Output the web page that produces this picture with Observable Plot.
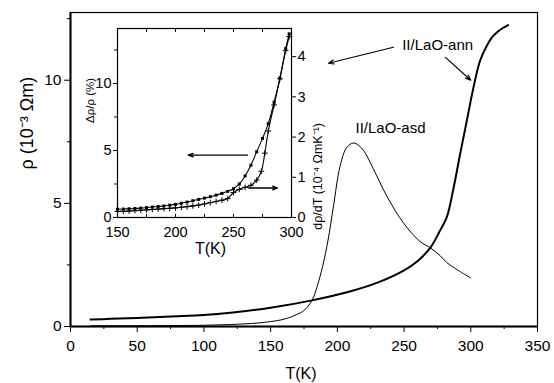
<!DOCTYPE html>
<html><head><meta charset="utf-8">
<script src="https://cdn.jsdelivr.net/npm/d3@7"></script>
<script src="https://cdn.jsdelivr.net/npm/@observablehq/plot@0.6"></script>
<style>
body{margin:0;background:#fff;font-family:"Liberation Sans",Arial,sans-serif;}
#wrap{position:relative;width:554px;height:383px;overflow:hidden;}
#wrap svg{position:absolute;}
#wrap svg, #wrap svg text{font-family:"Liberation Sans",Arial,sans-serif !important;}
</style></head><body><div id="wrap"></div>
<script>
// ---- main chart data ----
const annT = [15, 30, 50, 75, 100, 120, 150, 181, 210, 230, 250, 260, 270, 276, 282, 287, 292, 297, 302, 307, 312, 316, 320, 324, 328];
const annR = [0.28, 0.31, 0.35, 0.41, 0.47, 0.56, 0.76, 1.06, 1.43, 1.78, 2.28, 2.65, 3.22, 3.8, 4.44, 5.6, 7.0, 8.35, 9.7, 10.8, 11.4, 11.75, 11.96, 12.12, 12.24];
const asdT = [15, 50, 80, 100, 120, 140, 150, 158, 165, 170, 175, 181, 185, 189, 193, 197, 202, 207, 212, 216, 220, 227, 237, 250, 262, 270, 277, 282, 290, 300];
const asdR = [0.03, 0.03, 0.04, 0.05, 0.08, 0.14, 0.2, 0.27, 0.38, 0.5, 0.65, 1.06, 1.65, 2.45, 3.5, 4.85, 6.5, 7.27, 7.45, 7.35, 7.12, 6.4, 5.3, 4.17, 3.45, 3.18, 2.88, 2.6, 2.3, 1.97];
const xMajor = [0, 50, 100, 150, 200, 250, 300, 350];
const xMinor = [25, 75, 125, 175, 225, 275, 325];
const yMajor = [0, 5, 10];
const yMinor = [2.5, 7.5, 12.5];
const seriesLabels = ["II/LaO-ann", "II/LaO-asd"];
const labelT = [248.6, 213.6];
const labelR = [11.42, 8.05];
const arrowsMain = [
  {x1: 242, y1: 11.34, x2: 193.4, y2: 10.69},
  {x1: 281, y1: 10.93, x2: 300, y2: 10.0}
];
const xTitle = "T(K)";
const yTitle = "ρ (10⁻³ Ωm)";

// ---- inset data ----
const inT1 = [150, 155, 160, 165, 170, 175, 180, 185, 190, 195, 200, 205, 210, 215, 220, 225, 230, 235, 240, 245, 250, 255, 260, 265, 270, 275, 280, 285, 290, 295, 298];
const inDrho = [0.62, 0.63, 0.65, 0.67, 0.7, 0.74, 0.78, 0.82, 0.86, 0.92, 0.98, 1.06, 1.15, 1.25, 1.35, 1.45, 1.55, 1.67, 1.8, 1.95, 2.15, 2.5, 3.1, 3.9, 4.9, 5.9, 7.0, 8.6, 10.4, 12.6, 13.7];
const inT2 = [150, 155, 160, 165, 170, 175, 180, 185, 190, 195, 200, 205, 210, 215, 220, 225, 230, 235, 240, 245, 250, 255, 260, 265, 270, 274, 277, 280, 285, 290, 295, 298];
const inDeriv = [0.15, 0.155, 0.16, 0.17, 0.18, 0.19, 0.2, 0.21, 0.22, 0.23, 0.24, 0.255, 0.27, 0.29, 0.31, 0.34, 0.37, 0.4, 0.43, 0.47, 0.62, 0.7, 0.75, 0.8, 0.93, 1.15, 1.6, 2.15, 2.8, 3.45, 4.15, 4.5];
const inXMajor = [150, 200, 250, 300];
const inXMinor = [150, 175, 200, 225, 250, 275, 300];
const inYMajor = [0, 5, 10];
const inYMinor = [2.5, 7.5, 12.5];
const inRightTicks = [0, 1, 2, 3, 4];
const arrowsInset = [
  {x1: 262, y1: 4.65, x2: 211, y2: 4.65},
  {x1: 263, y1: 2.2, x2: 288, y2: 2.2}
];
const inXTitle = "T(K)";
const inYTitle = "Δρ/ρ (%)";
const inY2Title = "dρ/dT (10⁻⁴ ΩmK⁻¹)";

const font = "'Liberation Sans', Arial, sans-serif";
const ann = annT.map((t, i) => ({t, r: annR[i]}));
const asd = asdT.map((t, i) => ({t, r: asdR[i]}));
const labs = seriesLabels.map((s, i) => ({s, t: labelT[i], r: labelR[i]}));

const main = Plot.plot({
  width: 554, height: 383,
  marginLeft: 70, marginRight: 17, marginTop: 12, marginBottom: 57,
  style: {background: "transparent", fontFamily: font, color: "black"},
  x: {domain: [0, 350]},
  y: {domain: [0, 12.75]},
  marks: [
    Plot.frame({stroke: "black", strokeWidth: 1.2}),
    Plot.axisX({ticks: xMajor, tickSize: 6, tickPadding: 7, fontSize: 15.5, label: null}),
    Plot.axisX({ticks: xMinor, tickSize: 3, tickFormat: () => "", label: null}),
    Plot.axisY({ticks: yMajor, tickSize: 6, tickPadding: 3, fontSize: 15.5, label: null}),
    Plot.axisY({ticks: yMinor, tickSize: 3, tickFormat: () => "", label: null}),
    Plot.ruleX([0], {stroke: "black", strokeWidth: 2}),
    Plot.ruleY([0], {stroke: "black", strokeWidth: 2}),
    Plot.line(asd, {x: "t", y: "r", stroke: "black", strokeWidth: 1, curve: "catmull-rom"}),
    Plot.line(ann, {x: "t", y: "r", stroke: "black", strokeWidth: 2, curve: "catmull-rom"}),
    Plot.text(labs, {x: "t", y: "r", text: "s", textAnchor: "start", fontSize: 15, fill: "black"}),
    Plot.arrow(arrowsMain, {x1: "x1", y1: "y1", x2: "x2", y2: "y2", stroke: "black", strokeWidth: 1.2, headLength: 7, headAngle: 40}),
    Plot.text([yTitle], {frameAnchor: "left", rotate: -90, dx: -43, fontSize: 18, fill: "black"}),
    Plot.text([xTitle], {frameAnchor: "bottom", dx: -3, dy: 52, fontSize: 16, fill: "black"})
  ]
});

const d1 = inT1.map((t, i) => ({t, v: inDrho[i]}));
const d2 = inT2.map((t, i) => ({t, v: inDeriv[i]}));

const inset = Plot.plot({
  width: 275, height: 246,
  marginLeft: 57, marginRight: 44, marginTop: 12, marginBottom: 45,
  style: {background: "transparent", fontFamily: font, color: "black"},
  x: {domain: [150, 300]},
  y: {domain: [0, 14.1]},
  marks: [
    Plot.frame({stroke: "black", strokeWidth: 1.2}),
    Plot.axisX({ticks: inXMajor, tickSize: 0, tickPadding: 9, fontSize: 14.5, label: null}),
    Plot.axisX({ticks: inXMinor, tickSize: -3, tickFormat: () => "", label: null}),
    Plot.axisX({anchor: "top", ticks: inXMinor, tickSize: -3, tickFormat: () => "", label: null}),
    Plot.axisY({ticks: inYMajor, tickSize: 4, tickPadding: 2, fontSize: 14.5, label: null}),
    Plot.axisY({ticks: inYMinor, tickSize: 3, tickFormat: () => "", label: null}),
    Plot.axisY({anchor: "right", ticks: inRightTicks.map(v => v * 3), tickFormat: v => String(Math.round(v / 3)), tickSize: 4, tickPadding: 2, fontSize: 14.5, label: null}),
    Plot.line(d1, {x: "t", y: "v", stroke: "black", strokeWidth: 1.1, curve: "catmull-rom"}),
    Plot.dot(d1, {x: "t", y: "v", symbol: "square", r: 1.7, fill: "black", stroke: null}),
    Plot.line(d2, {x: "t", y: d => d.v * 3, stroke: "black", strokeWidth: 1.1, curve: "catmull-rom"}),
    Plot.dot(d2, {x: "t", y: d => d.v * 3, symbol: "plus", r: 2, stroke: "black", strokeWidth: 1}),
    Plot.arrow(arrowsInset, {x1: "x1", y1: "y1", x2: "x2", y2: "y2", stroke: "black", strokeWidth: 1.3, headLength: 6, headAngle: 40}),
    Plot.text([inYTitle], {frameAnchor: "left", rotate: -90, dx: -27, fontSize: 11.5, fill: "black"}),
    Plot.text([inY2Title], {frameAnchor: "right", rotate: -90, dx: 26, fontSize: 12.5, fill: "black"}),
    Plot.text([inXTitle], {frameAnchor: "bottom", dx: 6, dy: 36, fontSize: 16, fill: "black"})
  ]
});

const wrap = document.getElementById("wrap");
main.style.left = "0px"; main.style.top = "0px";
inset.style.left = "60px"; inset.style.top = "16px";
wrap.appendChild(main);
wrap.appendChild(inset);
</script>
</body></html>
